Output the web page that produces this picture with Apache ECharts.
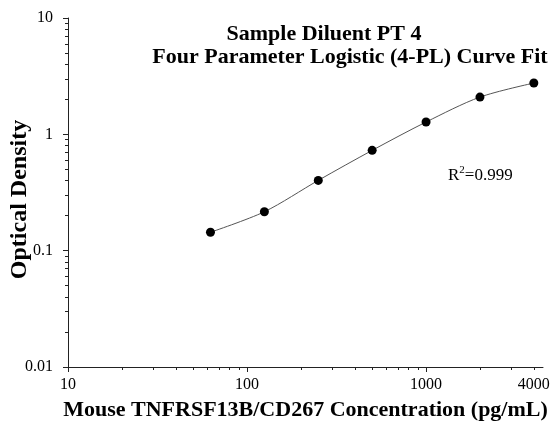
<!DOCTYPE html>
<html>
<head>
<meta charset="utf-8">
<script src="https://cdn.jsdelivr.net/npm/echarts@6/dist/echarts.min.js"></script>
<style>html,body{margin:0;padding:0;background:#fff}#c{width:555px;height:425px}</style>
</head>
<body>
<div id="c"></div>
<script>
const concentrations = [62.5, 125, 250, 500, 1000, 2000, 4000];
const odValues = [0.144, 0.216, 0.402, 0.728, 1.276, 2.09, 2.76];
const xMajorTicks = [10, 100, 1000];
const xLabelValues = [10, 100, 1000, 4000];
const xMinorTicks = [20, 30, 40, 50, 60, 70, 80, 90, 200, 300, 400, 500, 600, 700, 800, 900, 2000, 3000, 4000];
const yMajorTicks = [0.01, 0.1, 1, 10];
const yMinorTicks = [0.02, 0.03, 0.04, 0.05, 0.06, 0.07, 0.08, 0.09, 0.2, 0.3, 0.4, 0.5, 0.6, 0.7, 0.8, 0.9, 2, 3, 4, 5, 6, 7, 8, 9];
const titleLine1 = 'Sample Diluent PT 4';
const titleLine2 = 'Four Parameter Logistic (4-PL) Curve Fit';
const r2Text = '0.999';

const font = '"Liberation Serif", "Times New Roman", serif';
const chart = echarts.init(document.getElementById('c'), null, {renderer: 'canvas'});
const pts = concentrations.map((c, i) => [c, odValues[i]]);
const axisColor = '#222';

chart.setOption({
  animation: false,
  backgroundColor: '#fff',
  title: [
    {text: titleLine1, left: 319, top: 18, textAlign: 'center',
     textStyle: {fontFamily: font, fontSize: 22, fontWeight: 'bold', color: '#000'}},
    {text: titleLine2, left: 345, top: 41, textAlign: 'center',
     textStyle: {fontFamily: font, fontSize: 22, fontWeight: 'bold', color: '#000'}},
    {text: '{a|R}{b|2}{a|=' + r2Text + '}', left: 443, top: 160,
     textStyle: {rich: {
       a: {fontFamily: font, fontSize: 17, fontWeight: 'normal', color: '#000', verticalAlign: 'bottom'},
       b: {fontFamily: font, fontSize: 11, fontWeight: 'normal', color: '#000', verticalAlign: 'top', padding: [0, 0, 8, 0]}
     }}}
  ],
  grid: {left: 68, top: 18, right: 12, bottom: 58, containLabel: false, outerBoundsMode: 'none'},
  xAxis: [
    {type: 'log', logBase: 10, min: 10, max: 4500, position: 'bottom',
     name: 'Mouse TNFRSF13B/CD267 Concentration (pg/mL)', nameLocation: 'middle', nameGap: 32,
     nameMoveOverlap: false,
     nameTextStyle: {fontFamily: font, fontSize: 22, fontWeight: 'bold', color: '#000'},
     axisLine: {show: true, lineStyle: {color: axisColor, width: 1}},
     axisTick: {show: true, length: 5, customValues: xMajorTicks, lineStyle: {color: axisColor}},
     axisLabel: {customValues: xLabelValues, margin: 10, fontFamily: font, fontSize: 16, color: '#000',
       formatter: v => String(v)},
     splitLine: {show: false}, minorTick: {show: false}},
    {type: 'log', logBase: 10, min: 10, max: 4500, position: 'bottom',
     axisLine: {show: false},
     axisTick: {show: true, length: 3, customValues: xMinorTicks, lineStyle: {color: axisColor}},
     axisLabel: {show: false}, splitLine: {show: false}}
  ],
  yAxis: [
    {type: 'log', logBase: 10, min: 0.01, max: 10, position: 'left',
     name: 'Optical Density', nameLocation: 'middle', nameGap: 36, nameMoveOverlap: false,
     nameTextStyle: {fontFamily: font, fontSize: 24, fontWeight: 'bold', color: '#000', padding: [0, 14, 0, 0]},
     axisLine: {show: true, lineStyle: {color: axisColor, width: 1}},
     axisTick: {show: true, length: 5, customValues: yMajorTicks, lineStyle: {color: axisColor}},
     axisLabel: {customValues: yMajorTicks, margin: 15, fontFamily: font, fontSize: 16, color: '#000',
       formatter: v => String(v)},
     splitLine: {show: false}},
    {type: 'log', logBase: 10, min: 0.01, max: 10, position: 'left',
     axisLine: {show: false},
     axisTick: {show: true, length: 3, customValues: yMinorTicks, lineStyle: {color: axisColor}},
     axisLabel: {show: false}, splitLine: {show: false}}
  ],
  series: [
    {type: 'line', data: pts, smooth: 0.3, showSymbol: false, symbol: 'none',
     lineStyle: {color: '#555', width: 1}, xAxisIndex: 0, yAxisIndex: 0, z: 2},
    {type: 'scatter', data: pts, symbol: 'circle', symbolSize: 9,
     itemStyle: {color: '#000', opacity: 1}, xAxisIndex: 0, yAxisIndex: 0, z: 3}
  ]
});
</script>
</body>
</html>
